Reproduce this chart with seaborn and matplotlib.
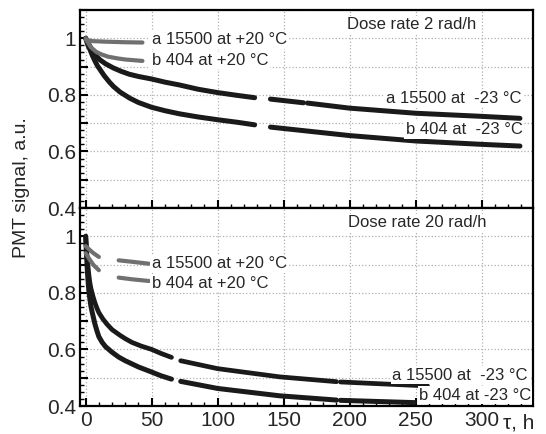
import matplotlib
matplotlib.use('Agg')
import matplotlib.pyplot as plt
from matplotlib.ticker import MultipleLocator, FuncFormatter
import numpy as np
import pandas as pd
import seaborn as sns

# curve values, nan marks a break in the trace
# dose rate 2 rad/h
t2_a_warm = [0, 5, 15, 30, 43]
y2_a_warm = [0.995, 0.99, 0.988, 0.986, 0.985]
t2_b_warm = [0, 2, 4, 8, 12, 17, 24, 30, 43]
y2_b_warm = [1.0, 0.982, 0.968, 0.952, 0.943, 0.935, 0.929, 0.925, 0.92]
t2_a_cold = [0, 1, 2, 4, 6, 8, 10.8, 15, 21, 27, 33, 40, 50, 60, 71, 85, 100, 115, 128,
             np.nan, 140, 165, np.nan, 168, 200, 250, 300, 329]
y2_a_cold = [1.0, 0.992, 0.982, 0.965, 0.95, 0.937, 0.924, 0.91, 0.895, 0.883, 0.873, 0.865,
             0.856, 0.845, 0.835, 0.82, 0.808, 0.798, 0.79,
             np.nan, 0.785, 0.772, np.nan, 0.771, 0.753, 0.735, 0.724, 0.717]
t2_b_cold = [0, 1, 2, 3.3, 5, 7, 9, 10.8, 14, 18, 21, 26, 33.5, 40, 50, 60, 71, 85, 100, 115, 128,
             np.nan, 140, 200, 250, 300, 329]
y2_b_cold = [1.0, 0.985, 0.972, 0.96, 0.94, 0.92, 0.902, 0.89, 0.868, 0.845, 0.83, 0.81, 0.788,
             0.773, 0.756, 0.744, 0.733, 0.722, 0.712, 0.703, 0.694,
             np.nan, 0.686, 0.656, 0.637, 0.625, 0.619]

# dose rate 20 rad/h
t20_a_warm = [0, 3, 6, 10, np.nan, 25, 35, 48]
y20_a_warm = [0.965, 0.952, 0.94, 0.927, np.nan, 0.915, 0.91, 0.903]
t20_b_warm = [0, 3, 6, 10, np.nan, 25, 35, 48]
y20_b_warm = [0.94, 0.918, 0.898, 0.88, np.nan, 0.854, 0.848, 0.842]
t20_a_cold = [0, 0.5, 1, 1.7, 2.5, 3.2, 4, 5.5, 7, 8.5, 10, 13, 16, 20, 26, 30, 35, 42, 50, 57, 65,
              np.nan, 72, 100, 147, 190, np.nan, 193, 230, 259]
y20_a_cold = [1.0, 0.965, 0.93, 0.895, 0.86, 0.835, 0.815, 0.788, 0.765, 0.746, 0.73, 0.708, 0.69,
              0.67, 0.65, 0.638, 0.625, 0.612, 0.6, 0.586, 0.572,
              np.nan, 0.56, 0.532, 0.503, 0.486, np.nan, 0.485, 0.477, 0.471]
t20_b_cold = [0, 0.5, 1, 1.5, 2, 2.6, 3.3, 4, 5, 6, 7, 8.5, 10, 12.5, 15, 17.5, 20, 25, 30, 40, 50,
              57, 65, np.nan, 72, 100, 147, 190, np.nan, 193, 249]
y20_b_cold = [1.0, 0.95, 0.9, 0.862, 0.83, 0.8, 0.774, 0.752, 0.73, 0.71, 0.69, 0.666, 0.645,
              0.625, 0.61, 0.6, 0.59, 0.573, 0.56, 0.538, 0.52, 0.507, 0.495,
              np.nan, 0.487, 0.462, 0.436, 0.421, np.nan, 0.42, 0.412]

x_ticks = [0, 50, 100, 150, 200, 250, 300]

sns.set_theme(style='white')
plt.rcParams['font.family'] = ['Liberation Sans', 'DejaVu Sans']

GRAY = '#707070'
BLACK = '#1a1a1a'


def to_frame(t, y):
    df = pd.DataFrame({'t': t, 'y': y})
    df['seg'] = df['t'].isna().cumsum()
    return df.dropna()


def draw(ax, t, y, color, lw):
    sns.lineplot(data=to_frame(t, y), x='t', y='y', units='seg', estimator=None,
                 sort=False, color=color, linewidth=lw, ax=ax, zorder=1.5)


fig = plt.figure(figsize=(5.46, 4.34), dpi=100)
ax1 = fig.add_axes([80/546, 1 - 208/434, 453/546, 198/434])
ax2 = fig.add_axes([80/546, 1 - 406/434, 453/546, 198/434])

draw(ax1, t2_a_cold, y2_a_cold, BLACK, 3.6)
draw(ax1, t2_b_cold, y2_b_cold, BLACK, 3.6)
draw(ax1, t2_a_warm, y2_a_warm, GRAY, 3.0)
draw(ax1, t2_b_warm, y2_b_warm, GRAY, 3.0)

draw(ax2, t20_a_cold, y20_a_cold, BLACK, 3.4)
draw(ax2, t20_b_cold, y20_b_cold, BLACK, 3.6)
draw(ax2, t20_a_warm, y20_a_warm, GRAY, 3.0)
draw(ax2, t20_b_warm, y20_b_warm, GRAY, 3.0)

box = dict(facecolor='white', edgecolor='none', pad=1)
fs = 12
ax1.text(50, 0.995, 'a 15500 at +20 °C', fontsize=fs, va='center', bbox=box)
ax1.text(50, 0.921, 'b 404 at +20 °C', fontsize=fs, va='center', bbox=box)
ax1.text(198, 1.047, 'Dose rate 2 rad/h', fontsize=fs, va='center', bbox=box)
ax1.text(330, 0.788, 'a 15500 at  -23 °C', fontsize=fs, va='center', ha='right', bbox=box)
ax1.text(331, 0.676, 'b 404 at  -23 °C', fontsize=fs, va='center', ha='right', bbox=box)

ax2.text(50, 0.903, 'a 15500 at +20 °C', fontsize=fs, va='center', bbox=box)
ax2.text(50, 0.833, 'b 404 at +20 °C', fontsize=fs, va='center', bbox=box)
ax2.text(199, 1.047, 'Dose rate 20 rad/h', fontsize=fs, va='center', bbox=box)
ax2.text(335, 0.509, 'a 15500 at  -23 °C', fontsize=fs, va='center', ha='right', bbox=box)
ax2.text(337.5, 0.438, 'b 404 at -23 °C', fontsize=fs, va='center', ha='right', bbox=box)

ylab = FuncFormatter(lambda v, p: ('1' if abs(v - 1) < 1e-6 else f'{v:.1f}')
                     if round(v * 10) % 2 == 0 else '')

for ax in (ax1, ax2):
    ax.set_xlim(-4.3, 338.9)
    ax.set_ylim(0.4, 1.1)
    ax.xaxis.set_major_locator(MultipleLocator(50))
    ax.xaxis.set_minor_locator(MultipleLocator(10))
    ax.yaxis.set_major_locator(MultipleLocator(0.1))
    ax.yaxis.set_minor_locator(MultipleLocator(0.025))
    ax.yaxis.set_major_formatter(ylab)
    ax.grid(True, which='major', linestyle=':', color='#b0b0b0', linewidth=0.9)
    ax.tick_params(which='major', direction='in', length=6, width=1.5, labelsize=15,
                   color='black', bottom=True, left=True)
    ax.tick_params(which='minor', direction='in', length=3, width=1.0,
                   color='black', bottom=True, left=True)
    ax.tick_params(axis='y', pad=3)
    for s in ax.spines.values():
        s.set_color('black')
        s.set_linewidth(1.6)
    ax.set_xlabel('')
    ax.set_ylabel('')

ax1.set_xticks(x_ticks)
ax1.tick_params(axis='x', labelbottom=False)
ax2.set_xticks(x_ticks)
ax2.set_xticklabels([str(v) for v in x_ticks])

fig.text(22/546, 1 - 188/434, 'PMT signal, a.u.', rotation=90, fontsize=14,
         ha='center', va='center')
fig.text(503/546, 1 - 423/434, 'τ, h', fontsize=15, ha='left', va='center')

fig.savefig('out.png', dpi=100)
